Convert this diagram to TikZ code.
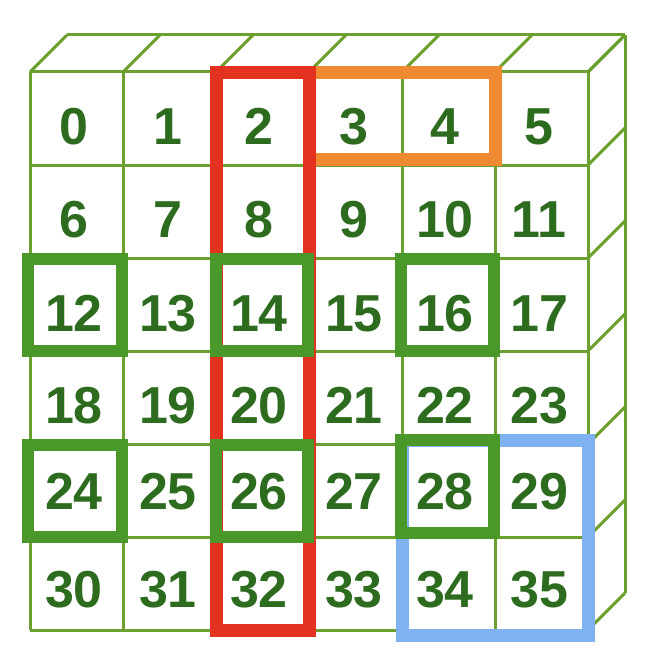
\documentclass[tikz,border=0pt]{standalone}
\usepackage{fontspec}
\setmainfont{Liberation Sans}
\definecolor{gridgreen}{RGB}{107,160,46}
\definecolor{boxgreen}{RGB}{74,152,42}
\definecolor{numgreen}{RGB}{45,108,30}
\definecolor{hlred}{RGB}{227,50,31}
\definecolor{hlorange}{RGB}{239,138,51}
\definecolor{hlblue}{RGB}{127,178,240}
\begin{document}
\begin{tikzpicture}[x=1pt,y=-1pt,
  gridline/.style={draw=gridgreen,line width=3pt},
  num/.style={font=\fontsize{52}{60}\selectfont\bfseries,text=numgreen,anchor=base,inner sep=0pt},
  hl/.style={line width=13pt}]
\useasboundingbox (0,0) rectangle (664,666);
% front face
\foreach \i in {0,...,6} {
  \draw[gridline] ({30+93*\i},72) -- ({30+93*\i},630);
  \draw[gridline] (30,{72+93*\i}) -- (588,{72+93*\i});
}
% top face
\foreach \i in {0,...,6} \draw[gridline] ({30+93*\i},72) -- ({67+93*\i},35);
\draw[gridline] (67,35) -- (625,35);
% side face
\foreach \i in {0,...,6} \draw[gridline] (588,{72+93*\i}) -- (625,{35+93*\i});
\draw[gridline] (625,35) -- (625,593);
% highlights
\draw[hl,draw=hlblue] (402,440) rectangle (588,635);
\draw[hl,draw=hlorange] (309,73) rectangle (495,159);
\draw[hl,draw=hlred] (216,73) rectangle (309,630);
\draw[hl,draw=boxgreen,line width=12pt] (28,259) rectangle (122,351);
\draw[hl,draw=boxgreen,line width=12pt] (216,259) rectangle (308,351);
\draw[hl,draw=boxgreen,line width=12pt] (401,259) rectangle (494,351);
\draw[hl,draw=boxgreen,line width=12pt] (28,445) rectangle (122,537);
\draw[hl,draw=boxgreen,line width=12pt] (216,445) rectangle (308,537);
\draw[hl,draw=boxgreen,line width=12pt] (401,440) rectangle (494,533);
% numbers
\foreach \ry [count=\r from 0] in {125,218,312,404,490,588} {
  \foreach \cx [count=\c from 0] in {74,168,259,354,445,539} {
    \pgfmathtruncatemacro{\k}{6*\r+\c}
    \node[num] (n\k) at (\cx,\ry+19) {\k};
  }
}
\end{tikzpicture}
\end{document}
